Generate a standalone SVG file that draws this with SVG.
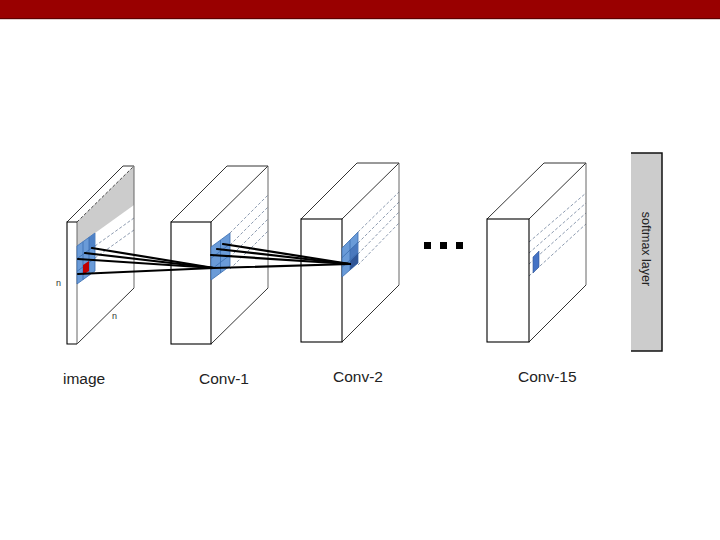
<svg xmlns="http://www.w3.org/2000/svg" width="720" height="540" viewBox="0 0 720 540">
<style>
.edge{fill:none;stroke:#000;stroke-width:1.1}
.thin{fill:none;stroke:#000;stroke-width:0.8}
.back{fill:none;stroke:#666;stroke-width:1}
.dash{fill:none;stroke:#7f8fa6;stroke-width:0.9;stroke-dasharray:3,2}
.patch{fill:#6a9bd8;stroke:#3a6db0;stroke-width:0.8}
.grid{fill:none;stroke:#3a6db0;stroke-width:0.8}
.conn{fill:none;stroke:#000;stroke-width:2.2;stroke-linecap:round}
.lbl{font-family:"Liberation Sans",Arial,sans-serif;font-size:15.5px;fill:#222}
.n{font-family:"Liberation Sans",Arial,sans-serif;font-size:9px;fill:#333}
</style>
<rect x="0" y="0" width="720" height="18" fill="#990000"/>
<rect x="0" y="18" width="720" height="1.2" fill="#5e0000"/>

<g id="image">
  <rect x="67" y="222" width="10" height="122" fill="#fff"/>
  <polygon points="77,222 134,166 134,288 77,344" fill="#fff"/>
  <polygon points="77,222 134,166 134,205 77,246" fill="#cccccc"/>
  <line class="dash" x1="95" y1="246" x2="134" y2="218"/>
  <line class="dash" x1="95" y1="258" x2="134" y2="230"/>
  <polyline class="thin" points="67,222 123,166 134,166"/>
  <line class="dash" x1="77" y1="222" x2="134" y2="166" style="stroke:#333"/>
  <line class="back" x1="134" y1="166" x2="134" y2="288"/>
  <line class="thin" x1="77" y1="344" x2="134" y2="288"/>
  <line class="back" x1="77" y1="222" x2="77" y2="344"/>
  <polyline class="edge" points="77,222 67,222 67,344 77,344"/>
  <polygon class="patch" points="77,246 95,233 95,271 77,284"/>
  <polygon points="89,237.3 95,233 95,245.7 89,250" fill="#4f82c6"/>
  <path class="grid" d="M83,241.7V279.7M89,237.3V275.3M77,258.7L95,245.7M77,271.3L95,258.3"/>
  <polygon points="83,265 89,261 89,271 83,275" fill="#c00000"/>
  <text class="n" x="56" y="286">n</text>
  <text class="n" x="112" y="319">n</text>
</g>

<g id="conv1">
  <polygon points="171,222 211,222 268,166 227,166" fill="#fff"/>
  <polygon points="211,222 268,166 268,288 211,344" fill="#fff"/>
  <line class="dash" x1="230" y1="233" x2="268" y2="195"/>
  <line class="dash" x1="230" y1="245" x2="268" y2="207"/>
  <line class="dash" x1="230" y1="257" x2="268" y2="219"/>
  <line class="dash" x1="230" y1="269" x2="268" y2="231"/>
  <polyline class="thin" points="171,222 227,166 268,166 211,222"/>
  <line class="back" x1="268" y1="166" x2="268" y2="288"/>
  <line class="thin" x1="211" y1="344" x2="268" y2="288"/>
  <rect class="edge" x="171" y="222" width="40" height="122" fill="#fff"/>
  <polygon class="patch" points="211,247 230,233 230,266 211,280"/>
  <path class="grid" d="M220.5,240V273M211,258.3L230,244M211,269.7L230,255"/>
</g>

<g id="conv2">
  <polygon points="301,219 342,219 399,163 357,163" fill="#fff"/>
  <polygon points="342,219 399,163 399,285 342,342" fill="#fff"/>
  <line class="dash" x1="358" y1="232" x2="399" y2="192"/>
  <line class="dash" x1="358" y1="243" x2="399" y2="202"/>
  <line class="dash" x1="358" y1="254" x2="399" y2="212"/>
  <line class="dash" x1="358" y1="265" x2="399" y2="223"/>
  <polyline class="thin" points="301,219 357,163 399,163 342,219"/>
  <line class="back" x1="399" y1="163" x2="399" y2="285"/>
  <line class="thin" x1="342" y1="342" x2="399" y2="285"/>
  <rect class="edge" x="301" y="219" width="41" height="123" fill="#fff"/>
  <polygon class="patch" points="342,248 358,232 358,263 342,277"/>
  <polygon points="350,250 358,242.3 358,253 350,261" fill="#4a78bd"/>
  <polygon points="350,261 358,253 358,263 350,270" fill="#2f5597"/>
  <path class="grid" d="M350,240V270M342,257.7L358,242.3M342,267.3L358,252.7"/>
</g>

<g id="dots">
  <rect x="424" y="242" width="7" height="7" fill="#000"/>
  <rect x="440" y="242" width="7" height="7" fill="#000"/>
  <rect x="456" y="242" width="7" height="7" fill="#000"/>
</g>

<g id="conv15">
  <polygon points="487,219 529,219 586,163 544,163" fill="#fff"/>
  <polygon points="529,219 586,163 586,285 529,342" fill="#fff"/>
  <line class="dash" x1="529" y1="242" x2="586" y2="193"/>
  <line class="dash" x1="529" y1="253" x2="586" y2="203"/>
  <line class="dash" x1="529" y1="264" x2="586" y2="213"/>
  <line class="dash" x1="529" y1="276" x2="586" y2="224"/>
  <polyline class="thin" points="487,219 544,163 586,163 529,219"/>
  <line class="back" x1="586" y1="163" x2="586" y2="285"/>
  <line class="thin" x1="529" y1="342" x2="586" y2="285"/>
  <rect class="edge" x="487" y="219" width="42" height="123" fill="#fff"/>
  <polygon points="533,257 539,251 539,267 533,273" fill="#4472c4" stroke="#2f5597" stroke-width="0.6"/>
</g>

<g id="softmax">
  <rect x="631" y="153" width="31" height="198" fill="#cccccc"/>
  <polyline points="631,153 662,153 662,351 631,351" fill="none" stroke="#111" stroke-width="1.5"/>
  <text transform="translate(646,249) rotate(90)" text-anchor="middle" dy="0.35em" style="font-family:'Liberation Sans',Arial,sans-serif;font-size:12.5px;fill:#222">softmax layer</text>
</g>

<g id="connectors">
  <line class="conn" x1="92" y1="248" x2="214" y2="268"/>
  <line class="conn" x1="85" y1="253" x2="214" y2="268"/>
  <line class="conn" x1="78" y1="259" x2="214" y2="268"/>
  <line class="conn" x1="78" y1="274" x2="214" y2="268"/>
  <line class="conn" x1="223" y1="244" x2="350" y2="264"/>
  <line class="conn" x1="217" y1="249" x2="350" y2="264"/>
  <line class="conn" x1="211" y1="255" x2="350" y2="264"/>
  <line class="conn" x1="214" y1="268" x2="350" y2="264"/>
</g>

<g id="labels">
  <text class="lbl" x="63" y="384">image</text>
  <text class="lbl" x="199" y="384">Conv-1</text>
  <text class="lbl" x="333" y="382">Conv-2</text>
  <text class="lbl" x="518" y="382">Conv-15</text>
</g>
</svg>
